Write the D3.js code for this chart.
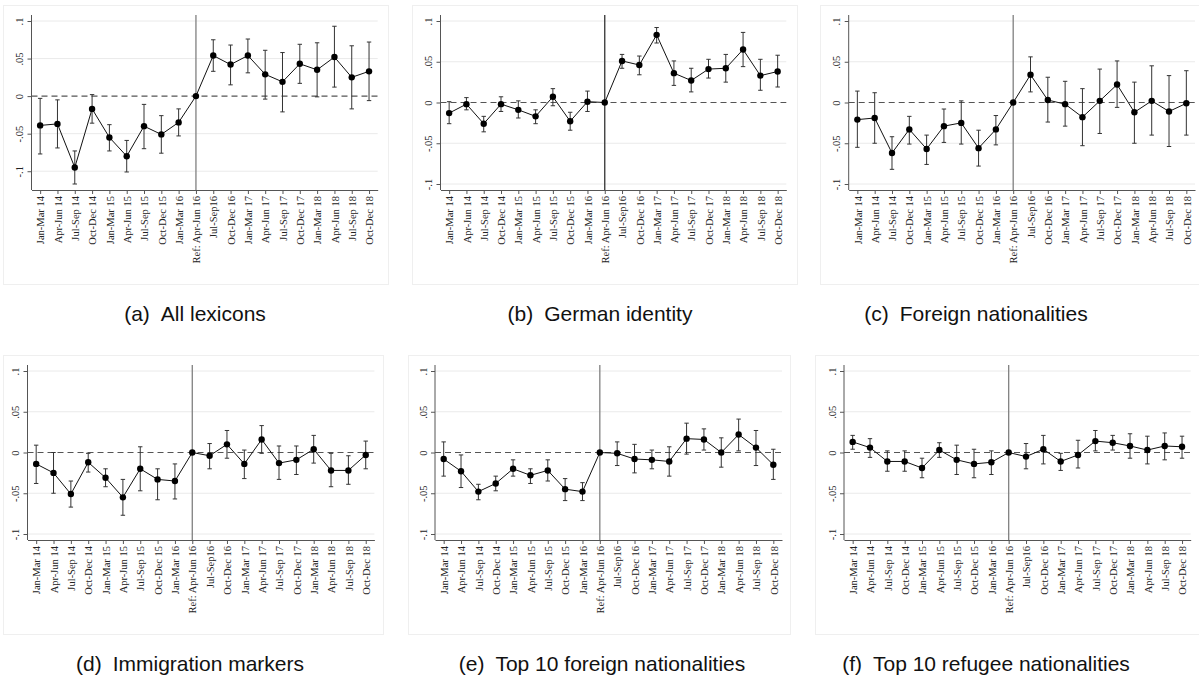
<!DOCTYPE html>
<html>
<head>
<meta charset="utf-8">
<script src="https://cdn.jsdelivr.net/npm/d3@7"></script>
<style>
  html, body { margin: 0; padding: 0; background: #fff; }
  svg { display: block; }
</style>
</head>
<body>
<svg id="chart" width="1199" height="679"></svg>
<script>
// ---------------- DATA ----------------
const categories = ["Jan-Mar 14","Apr-Jun 14","Jul-Sep 14","Oct-Dec 14","Jan-Mar 15","Apr-Jun 15","Jul-Sep 15","Oct-Dec 15","Jan-Mar 16","Ref: Apr-Jun 16","Jul-Sep16","Oct-Dec 16","Jan-Mar 17","Apr-Jun 17","Jul-Sep 17","Oct-Dec 17","Jan-Mar 18","Apr-Jun 18","Jul-Sep 18","Oct-Dec 18"];
const refCategory = "Ref: Apr-Jun 16";
const yTicks = [0.1, 0.05, 0, -0.05, -0.1];
const yTickLabels = [".1", ".05", "0", "-.05", "-.1"];
const panelLetters = ["(a)", "(b)", "(c)", "(d)", "(e)", "(f)"];
const panelTitles = ["All lexicons", "German identity", "Foreign nationalities", "Immigration markers", "Top 10 foreign nationalities", "Top 10 refugee nationalities"];

// (a) All lexicons
const estA = [-0.039,-0.037,-0.095,-0.017,-0.055,-0.080,-0.040,-0.051,-0.035,0,0.054,0.042,0.054,0.029,0.019,0.043,0.035,0.052,0.025,0.033];
const loA  = [-0.077,-0.069,-0.117,-0.036,-0.073,-0.101,-0.070,-0.076,-0.053,0,0.033,0.015,0.031,-0.004,-0.021,0.017,-0.001,0.012,-0.017,-0.006];
const hiA  = [-0.003,-0.005,-0.073,0.002,-0.038,-0.059,-0.011,-0.026,-0.017,0,0.075,0.068,0.076,0.061,0.058,0.069,0.071,0.093,0.067,0.072];
// (b) German identity
const estB = [-0.013,-0.002,-0.026,-0.002,-0.009,-0.017,0.007,-0.023,0.001,0,0.051,0.046,0.083,0.036,0.027,0.041,0.042,0.065,0.033,0.038];
const loB  = [-0.026,-0.009,-0.036,-0.011,-0.019,-0.026,-0.004,-0.034,-0.011,0,0.042,0.034,0.073,0.021,0.013,0.030,0.025,0.044,0.015,0.019];
const hiB  = [0.001,0.006,-0.017,0.007,0.002,-0.009,0.017,-0.012,0.014,0,0.059,0.057,0.092,0.051,0.042,0.053,0.059,0.086,0.053,0.058];
// (c) Foreign nationalities
const estC = [-0.021,-0.019,-0.062,-0.033,-0.057,-0.029,-0.025,-0.056,-0.033,0,0.034,0.003,-0.002,-0.018,0.002,0.022,-0.012,0.002,-0.011,-0.001];
const loC  = [-0.055,-0.050,-0.082,-0.051,-0.076,-0.049,-0.051,-0.078,-0.052,0,0.013,-0.024,-0.029,-0.053,-0.038,-0.006,-0.050,-0.040,-0.054,-0.040];
const hiC  = [0.014,0.012,-0.042,-0.017,-0.040,-0.008,0.002,-0.034,-0.016,0,0.056,0.031,0.026,0.017,0.041,0.051,0.025,0.045,0.033,0.039];
// (d) Immigration markers
const estD = [-0.014,-0.025,-0.051,-0.012,-0.031,-0.055,-0.020,-0.033,-0.035,0,-0.004,0.010,-0.014,0.016,-0.013,-0.009,0.004,-0.022,-0.022,-0.003];
const loD  = [-0.038,-0.050,-0.067,-0.024,-0.042,-0.077,-0.047,-0.058,-0.057,0,-0.020,-0.007,-0.032,-0.001,-0.033,-0.027,-0.013,-0.042,-0.039,-0.020];
const hiD  = [0.009,0.000,-0.035,-0.001,-0.020,-0.033,0.007,-0.020,-0.014,0,0.011,0.027,0.003,0.033,0.008,0.008,0.021,-0.001,-0.004,0.014];
// (e) Top 10 foreign nationalities
const estE = [-0.008,-0.023,-0.048,-0.038,-0.020,-0.028,-0.022,-0.045,-0.048,0,-0.001,-0.008,-0.009,-0.011,0.017,0.016,0.000,0.022,0.006,-0.015];
const loE  = [-0.029,-0.043,-0.058,-0.047,-0.029,-0.038,-0.035,-0.059,-0.059,0,-0.016,-0.025,-0.020,-0.029,-0.002,0.003,-0.018,0.002,-0.016,-0.033];
const hiE  = [0.013,-0.003,-0.039,-0.029,-0.009,-0.020,-0.009,-0.032,-0.037,0,0.013,0.010,0.003,0.007,0.036,0.029,0.018,0.041,0.027,0.004];
// (f) Top 10 refugee nationalities
const estF = [0.013,0.006,-0.011,-0.011,-0.019,0.003,-0.009,-0.014,-0.012,0,-0.005,0.004,-0.011,-0.003,0.014,0.012,0.008,0.003,0.008,0.007];
const loF  = [0.004,-0.006,-0.023,-0.023,-0.031,-0.006,-0.027,-0.031,-0.027,0,-0.020,-0.014,-0.022,-0.019,0.002,0.003,-0.007,-0.014,-0.009,-0.007];
const hiF  = [0.021,0.017,0.002,0.002,-0.007,0.012,0.009,0.004,0.002,0,0.011,0.021,-0.001,0.015,0.027,0.021,0.023,0.020,0.024,0.020];

const panelData = [
  {est: estA, lo: loA, hi: hiA},
  {est: estB, lo: loB, hi: hiB},
  {est: estC, lo: loC, hi: hiC},
  {est: estD, lo: loD, hi: hiD},
  {est: estE, lo: loE, hi: hiE},
  {est: estF, lo: loF, hi: hiF}
];

// ---------------- LAYOUT ----------------
const layout = [
  {x0: 31.5,  x1: 377.7,  top: 15,  bottom: 190, frame: [3, 5, 388, 284],     capX: 195, capY: 321, refColor: "#808080"},
  {x0: 440.5, x1: 786.3,  top: 15,  bottom: 190, frame: [412, 5, 797, 284],   capX: 600, capY: 321, refColor: "#333"},
  {x0: 848.7, x1: 1195,   top: 15,  bottom: 190, frame: [820, 5, 1205, 284],  capX: 976, capY: 321, refColor: "#808080"},
  {x0: 27.5,  x1: 374.4,  top: 365, bottom: 540, frame: [3, 355, 383, 634],   capX: 190, capY: 671, refColor: "#808080"},
  {x0: 435,   x1: 782,    top: 365, bottom: 540, frame: [408, 355, 790, 634], capX: 602, capY: 671, refColor: "#808080"},
  {x0: 844,   x1: 1190.7, top: 365, bottom: 540, frame: [815, 355, 1205, 634], capX: 986, capY: 671, refColor: "#808080"}
];
const plotPad = 6;
const serif = "'Liberation Serif', 'Times New Roman', serif";
const sans = "'Liberation Sans', Arial, Helvetica, sans-serif";

const svg = d3.select("#chart");
svg.append("rect").attr("width", 1199).attr("height", 679).attr("fill", "#fff");

panelData.forEach((d, p) => {
  const L = layout[p];
  const g = svg.append("g");

  // faint panel frame
  const [fx0, fy0, fx1, fy1] = L.frame;
  g.append("rect").attr("x", fx0 + 0.5).attr("y", fy0 + 0.5)
    .attr("width", fx1 - fx0).attr("height", fy1 - fy0)
    .attr("fill", "#fff").attr("stroke", "#efefef").attr("stroke-width", 1);

  const x = d3.scalePoint().domain(categories).range([L.x0, L.x1]).padding(0.5);
  const yMin = Math.min(-0.1, d3.min(d.lo), d3.min(d.est));
  const yMax = Math.max(0.1, d3.max(d.hi), d3.max(d.est));
  const y = d3.scaleLinear().domain([yMin, yMax]).range([L.bottom - plotPad, L.top + plotPad]);

  // gridlines
  g.append("g").selectAll("line").data(yTicks.filter(t => t !== 0)).join("line")
    .attr("x1", L.x0).attr("x2", L.x1)
    .attr("y1", t => y(t)).attr("y2", t => y(t))
    .attr("stroke", "#eaeaea").attr("stroke-width", 1);

  // zero dashed line
  g.append("line").attr("x1", L.x0).attr("x2", L.x1)
    .attr("y1", y(0)).attr("y2", y(0))
    .attr("stroke", "#555").attr("stroke-width", 1.1).attr("stroke-dasharray", "6,4");

  // reference vertical line
  g.append("line").attr("x1", x(refCategory)).attr("x2", x(refCategory))
    .attr("y1", L.top).attr("y2", L.bottom)
    .attr("stroke", L.refColor).attr("stroke-width", 1.3);

  // y axis
  const yAxis = d3.axisLeft(y).tickValues(yTicks)
    .tickFormat((t, i) => yTickLabels[i]).tickSize(4).tickSizeOuter(0);
  const ya = g.append("g").attr("transform", `translate(${L.x0},0)`).call(yAxis);
  ya.select(".domain").remove();
  ya.selectAll(".tick line").attr("stroke", "#555");
  ya.selectAll(".tick text")
    .attr("transform", "rotate(-90)")
    .attr("x", 0).attr("y", -8.5).attr("dy", 0)
    .attr("text-anchor", "middle")
    .attr("font-family", serif).attr("font-size", 10.5).attr("fill", "#222");
  g.append("line").attr("x1", L.x0).attr("x2", L.x0)
    .attr("y1", L.top).attr("y2", L.bottom)
    .attr("stroke", "#555").attr("stroke-width", 1);

  // x axis
  const xAxis = d3.axisBottom(x).tickSize(4).tickSizeOuter(0);
  const xa = g.append("g").attr("transform", `translate(0,${L.bottom})`).call(xAxis);
  xa.select(".domain").attr("stroke", "#555");
  xa.selectAll(".tick line").attr("stroke", "#555");
  xa.selectAll(".tick text")
    .attr("transform", "rotate(-90)")
    .attr("x", -6).attr("y", 0).attr("dy", "0.35em")
    .attr("text-anchor", "end")
    .attr("font-family", serif).attr("font-size", 10.5).attr("fill", "#222");

  // error bars
  const idx = d3.range(categories.length).filter(i => d.lo[i] !== d.hi[i]);
  const eb = g.append("g").attr("stroke", "#333").attr("stroke-width", 1);
  eb.selectAll("line.v").data(idx).join("line").attr("class", "v")
    .attr("x1", i => x(categories[i])).attr("x2", i => x(categories[i]))
    .attr("y1", i => y(d.lo[i])).attr("y2", i => y(d.hi[i]));
  eb.selectAll("line.cl").data(idx).join("line").attr("class", "cl")
    .attr("x1", i => x(categories[i]) - 2.2).attr("x2", i => x(categories[i]) + 2.2)
    .attr("y1", i => y(d.lo[i])).attr("y2", i => y(d.lo[i]));
  eb.selectAll("line.ch").data(idx).join("line").attr("class", "ch")
    .attr("x1", i => x(categories[i]) - 2.2).attr("x2", i => x(categories[i]) + 2.2)
    .attr("y1", i => y(d.hi[i])).attr("y2", i => y(d.hi[i]));

  // connecting line
  const line = d3.line().x((v, i) => x(categories[i])).y(v => y(v));
  g.append("path").datum(d.est).attr("d", line)
    .attr("fill", "none").attr("stroke", "#111").attr("stroke-width", 1);

  // points
  g.append("g").selectAll("circle").data(d.est).join("circle")
    .attr("cx", (v, i) => x(categories[i])).attr("cy", v => y(v))
    .attr("r", 3.2).attr("fill", "#000");

  // caption
  const cap = svg.append("text").attr("x", L.capX).attr("y", L.capY)
    .attr("text-anchor", "middle").attr("font-family", sans)
    .attr("font-size", 21).attr("fill", "#111");
  cap.append("tspan").text(panelLetters[p]);
  cap.append("tspan").attr("dx", 11).text(panelTitles[p]);
});
</script>
</body>
</html>
